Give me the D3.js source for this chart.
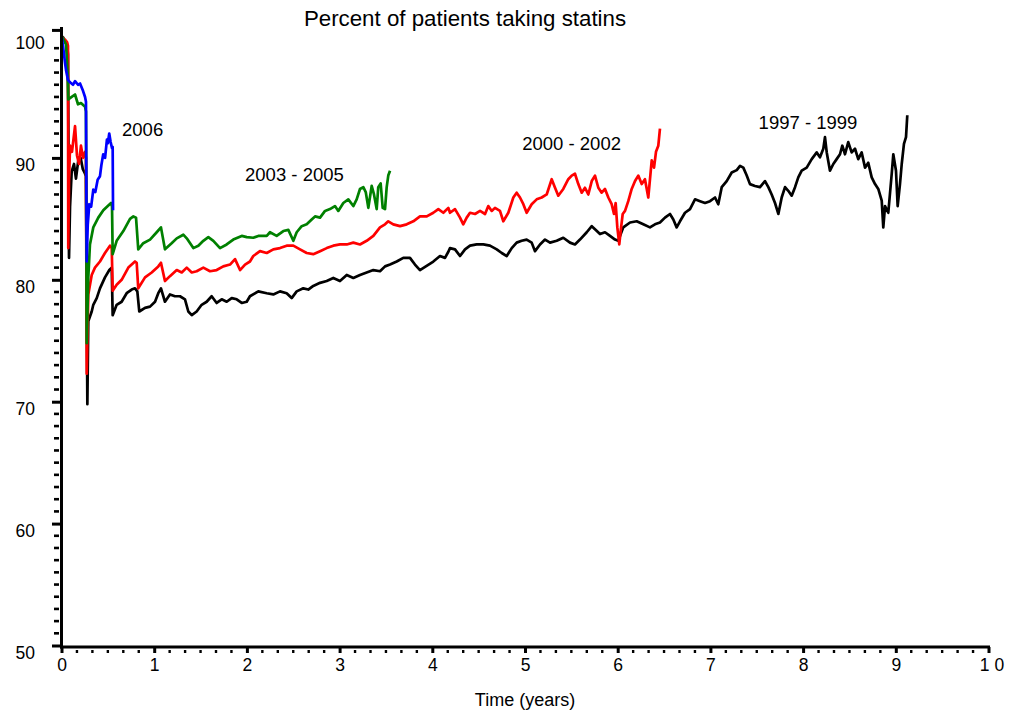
<!DOCTYPE html>
<html>
<head>
<meta charset="utf-8">
<script src="https://cdn.jsdelivr.net/npm/d3@7"></script>
<style>
  html, body { margin: 0; padding: 0; background: #fff; }
  svg { display: block; font-family: "Liberation Sans", Arial, sans-serif; }
</style>
</head>
<body>
<svg id="chart" width="1009" height="716"></svg>
<script>
// Percent of patients still taking statins, by years since first prescription,
// one cohort per calendar period. Each point: [years, percent].
const cohort1997 = [
  [0,100],[0.016,99.9],[0.038,99.6],[0.06,99.3],[0.07,98.5],[0.081,81.8],[0.092,86],[0.11,88.9],
  [0.135,89.5],[0.156,88.3],[0.181,89.8],[0.207,90.0],[0.229,89.1],[0.254,88.7],[0.264,88.5],
  [0.279,69.8],[0.289,76.6],[0.326,77.4],[0.343,77.95],[0.38,78.5],[0.415,79.3],[0.469,80.2],
  [0.516,80.8],[0.542,81.0],[0.552,77.1],[0.595,77.95],[0.649,78.2],[0.703,78.9],[0.757,79.2],
  [0.793,79.3],[0.818,79.05],[0.839,77.4],[0.901,77.7],[0.955,77.8],[1.009,78.2],[1.044,78.9],
  [1.073,79.3],[1.116,78.2],[1.17,78.8],[1.224,78.65],[1.278,78.65],[1.332,78.4],[1.368,77.4],
  [1.405,77.1],[1.458,77.4],[1.512,77.95],[1.566,78.2],[1.62,78.65],[1.674,78.1],[1.728,78.4],
  [1.782,78.2],[1.836,78.5],[1.89,78.4],[1.944,78.1],[1.998,78.2],[2.033,78.65],[2.123,79.05],
  [2.214,78.9],[2.285,78.8],[2.357,79.05],[2.429,78.9],[2.483,78.5],[2.537,79.05],[2.608,79.3],
  [2.662,79.2],[2.716,79.5],[2.789,79.75],[2.861,79.9],[2.932,80.15],[3.004,79.9],[3.077,80.4],
  [3.148,80.15],[3.22,80.4],[3.292,80.6],[3.364,80.8],[3.436,80.7],[3.49,81.1],[3.544,81.25],
  [3.616,81.5],[3.687,81.8],[3.759,81.8],[3.813,81.25],[3.867,80.8],[4.011,81.5],[4.083,81.95],
  [4.137,81.8],[4.173,82.3],[4.191,82.6],[4.245,82.5],[4.299,81.95],[4.353,82.5],[4.407,82.8],
  [4.479,82.9],[4.55,82.9],[4.622,82.8],[4.695,82.5],[4.749,82.2],[4.803,81.95],[4.857,82.6],
  [4.91,83.05],[4.964,83.2],[5.018,83.3],[5.072,83.05],[5.108,82.35],[5.162,82.9],[5.216,83.3],
  [5.27,83.05],[5.342,83.2],[5.413,83.45],[5.485,83.05],[5.539,82.9],[5.593,83.3],[5.666,83.9],
  [5.72,84.4],[5.755,84.15],[5.809,83.75],[5.863,83.9],[5.917,83.6],[5.971,83.3],[6.006,83.2],
  [6.06,84.3],[6.133,84.7],[6.205,84.8],[6.276,84.55],[6.348,84.3],[6.402,84.55],[6.456,84.7],
  [6.51,85.1],[6.564,85.4],[6.6,84.95],[6.636,84.3],[6.672,84.8],[6.726,85.5],[6.78,85.8],
  [6.834,86.6],[6.888,86.45],[6.942,86.3],[6.996,86.45],[7.05,86.75],[7.085,86.2],[7.122,87.6],
  [7.176,88.1],[7.23,88.8],[7.284,89.0],[7.32,89.35],[7.355,89.2],[7.392,88.55],[7.427,87.85],
  [7.481,87.7],[7.535,87.6],[7.589,88.1],[7.625,87.6],[7.661,87.0],[7.697,86.3],[7.733,85.4],
  [7.769,86.75],[7.805,87.6],[7.84,87.3],[7.877,86.9],[7.913,87.6],[7.948,88.4],[7.985,88.95],
  [8.039,89.2],[8.093,89.9],[8.147,90.45],[8.182,90.05],[8.218,90.75],[8.236,91.7],[8.255,90.45],
  [8.29,88.95],[8.326,89.5],[8.362,89.9],[8.398,90.3],[8.423,91.0],[8.452,90.3],[8.487,91.3],
  [8.524,90.45],[8.56,90.75],[8.595,89.9],[8.632,90.45],[8.668,89.2],[8.703,89.6],[8.74,88.4],
  [8.776,87.85],[8.811,87.45],[8.848,86.5],[8.865,84.3],[8.884,86.05],[8.919,85.5],[8.956,88.7],
  [8.973,90.3],[9.002,88.95],[9.02,86.05],[9.045,87.85],[9.064,89.5],[9.088,91.15],[9.11,91.7],
  [9.124,93.5]
];

const cohort2000 = [
  [0,100],[0.016,99.8],[0.038,99.7],[0.06,99.5],[0.07,99.2],[0.073,82.6],[0.081,88],[0.092,91],
  [0.113,90.5],[0.146,92.6],[0.167,90.2],[0.189,89.5],[0.21,91],[0.232,90],[0.254,90.5],[0.264,90.0],
  [0.272,72.3],[0.289,78.8],[0.326,80.4],[0.361,81.0],[0.415,81.5],[0.469,82.2],[0.523,82.8],
  [0.542,82.6],[0.552,79.1],[0.595,79.6],[0.649,80.0],[0.721,81.0],[0.793,81.5],[0.811,81.4],
  [0.828,79.3],[0.901,80.2],[0.973,80.6],[1.044,81.1],[1.073,81.4],[1.116,79.9],[1.17,80.3],
  [1.243,80.8],[1.297,80.6],[1.351,81.0],[1.405,80.6],[1.458,80.7],[1.53,81.0],[1.602,80.7],
  [1.674,80.8],[1.745,81.1],[1.818,81.25],[1.872,81.7],[1.926,80.8],[1.98,81.25],[2.033,81.5],
  [2.069,81.95],[2.141,82.35],[2.214,82.2],[2.285,82.5],[2.357,82.6],[2.429,82.8],[2.501,82.8],
  [2.573,82.5],[2.645,82.2],[2.716,82.1],[2.789,82.35],[2.861,82.6],[2.932,82.8],[3.004,82.9],
  [3.077,82.9],[3.148,83.05],[3.22,82.9],[3.292,83.2],[3.364,83.6],[3.436,84.3],[3.49,84.55],
  [3.525,84.8],[3.579,84.55],[3.652,84.4],[3.724,84.55],[3.795,84.8],[3.867,85.2],[3.94,85.2],
  [4.011,85.5],[4.065,85.8],[4.119,85.5],[4.173,85.9],[4.191,85.5],[4.245,85.8],[4.299,85.1],
  [4.334,84.55],[4.371,85.1],[4.407,85.5],[4.461,85.4],[4.515,85.65],[4.569,85.4],[4.604,86.05],
  [4.641,85.65],[4.676,85.9],[4.73,85.65],[4.766,84.8],[4.82,85.5],[4.874,86.75],[4.91,87.15],
  [4.946,86.75],[4.982,86.2],[5.018,85.5],[5.072,86.2],[5.126,86.6],[5.18,86.75],[5.234,87.0],
  [5.288,88.25],[5.324,87.55],[5.359,86.9],[5.413,87.45],[5.467,88.25],[5.504,88.55],[5.539,88.7],
  [5.575,87.85],[5.612,87.15],[5.647,87.55],[5.683,87.0],[5.72,88.1],[5.755,88.55],[5.791,87.55],
  [5.827,87.15],[5.863,87.45],[5.899,86.75],[5.935,86.2],[5.96,85.4],[5.978,86.3],[5.996,84.3],
  [6.017,82.9],[6.032,84.0],[6.054,85.4],[6.079,85.65],[6.114,86.45],[6.151,87.45],[6.187,88.1],
  [6.222,88.55],[6.259,87.85],[6.294,88.25],[6.33,86.75],[6.367,89.8],[6.392,89.2],[6.413,90.5],
  [6.438,91.0],[6.456,92.4]
];

const cohort2003 = [
  [0,100],[0.03,99.6],[0.049,99.3],[0.066,97],[0.073,94.8],[0.11,95],[0.146,95.2],[0.178,94.4],
  [0.21,94.5],[0.254,94.2],[0.264,93.8],[0.272,74.8],[0.289,80.2],[0.307,82.9],[0.343,84.3],
  [0.397,85.1],[0.451,85.7],[0.505,86.1],[0.534,86.3],[0.545,86.0],[0.552,82.1],[0.595,83.2],
  [0.667,84.0],[0.739,85.0],[0.775,85.2],[0.804,85.1],[0.828,82.5],[0.882,83.0],[0.955,83.3],
  [1.027,83.9],[1.073,84.3],[1.116,82.5],[1.188,83.0],[1.243,83.4],[1.314,83.7],[1.351,83.4],
  [1.422,82.6],[1.476,82.8],[1.53,83.2],[1.584,83.5],[1.638,83.2],[1.71,82.6],[1.782,82.9],
  [1.853,83.3],[1.944,83.6],[1.998,83.5],[2.069,83.45],[2.123,83.6],[2.214,83.6],[2.249,83.9],
  [2.321,83.6],[2.393,84.0],[2.447,84.1],[2.501,83.2],[2.537,83.9],[2.591,84.4],[2.645,84.55],
  [2.699,84.95],[2.735,85.2],[2.789,85.1],[2.843,85.65],[2.896,85.8],[2.95,86.05],[2.986,85.65],
  [3.04,86.3],[3.094,86.6],[3.148,86.05],[3.184,86.6],[3.22,87.45],[3.256,87.6],[3.282,87.2],
  [3.31,85.9],[3.346,87.7],[3.371,87.0],[3.4,85.8],[3.417,87.6],[3.443,87.9],[3.465,85.9],
  [3.49,85.8],[3.508,87.6],[3.525,88.55],[3.544,88.95]
];

const cohort2006 = [
  [0,100],[0.016,99.2],[0.038,97.8],[0.049,97.2],[0.07,96.4],[0.092,96.2],[0.124,96.0],[0.146,96.3],
  [0.178,96.0],[0.2,96.1],[0.232,95.5],[0.254,95.0],[0.264,94.6],[0.272,81.5],[0.283,84.5],
  [0.3,86.2],[0.32,86.0],[0.343,87.4],[0.365,87.2],[0.39,88.2],[0.415,88.5],[0.43,89.4],[0.45,90.3],
  [0.47,90.0],[0.49,91.5],[0.5,91.2],[0.515,92.0],[0.53,91.3],[0.545,90.8],[0.552,90.9],[0.556,85.7]
];

const seriesNames = ["1997 - 1999", "2000 - 2002", "2003 - 2005", "2006"];
const seriesColors = ["#000000", "#ff0000", "#008000", "#0000ff"];
const seriesData = [cohort1997, cohort2000, cohort2003, cohort2006];
// where each series name sits: [years, percent] at the text baseline
const labelAnchors = [[7.52, 92.4], [4.97, 90.65], [1.98, 88.1], [0.653, 91.8]];

const xMajorTicks = [0, 1, 2, 3, 4, 5, 6, 7, 8, 9, 10];
const xTickLabels = ["0", "1", "2", "3", "4", "5", "6", "7", "8", "9", "1 0"];
const yMajorTicks = [50, 60, 70, 80, 90, 100];

const chartTitle = "Percent of patients taking statins";
const xTitle = "Time (years)";

const svg = d3.select("#chart");
const x = d3.scaleLinear().domain([0, 10]).range([61.5, 988.5]);
const y = d3.scaleLinear().domain([50, 100]).range([645.5, 36]);

const axisX = 61.5;   // vertical axis position
const axisY = 647;    // horizontal axis position

// series, oldest drawn first so the newer cohorts sit on top
const line = d3.line().x(d => x(d[0])).y(d => y(d[1]));
svg.append("g").selectAll("path")
  .data(seriesData)
  .join("path")
  .attr("d", line)
  .attr("fill", "none")
  .attr("stroke", (d, i) => seriesColors[i])
  .attr("stroke-width", 2.7)
  .attr("stroke-linejoin", "round");

// y axis
const gy = svg.append("g").attr("transform", `translate(${axisX},0)`);
gy.call(d3.axisLeft(y).tickValues(yMajorTicks).tickSize(9.5).tickFormat(d3.format("d")));
gy.select(".domain").remove();
gy.selectAll(".tick line").attr("stroke", "#000").attr("stroke-width", 3);
// the top tick closes the axis just above 100
gy.selectAll(".tick").filter(d => d === 100).select("line")
  .attr("transform", `translate(0,${y(100.5) - y(100)})`);
gy.selectAll(".tick text")
  .attr("x", 15.5 - axisX)
  .attr("dy", "0.32em")
  .attr("y", 7)
  .attr("text-anchor", "start")
  .attr("fill", "#000")
  .attr("font-size", 17.5)
  .attr("font-family", "Liberation Sans, Arial, sans-serif");

const yMinor = d3.range(51, 100).filter(v => v % 10 !== 0);
svg.append("g").selectAll("line")
  .data(yMinor)
  .join("line")
  .attr("x1", axisX - 7.5).attr("x2", axisX - 2.5)
  .attr("y1", d => y(d)).attr("y2", d => y(d))
  .attr("stroke", "#000").attr("stroke-width", 2.6);

svg.append("line")
  .attr("x1", axisX).attr("x2", axisX)
  .attr("y1", 27).attr("y2", axisY + 1.5)
  .attr("stroke", "#000").attr("stroke-width", 3);

// x axis
const gx = svg.append("g").attr("transform", `translate(0,${axisY})`);
gx.call(d3.axisBottom(x).tickValues(xMajorTicks).tickSize(6)
  .tickFormat((d, i) => xTickLabels[i]));
gx.select(".domain").remove();
gx.selectAll(".tick line").attr("stroke", "#000").attr("stroke-width", 3);
gx.selectAll(".tick text")
  .attr("y", 12)
  .attr("dy", "0.71em")
  .attr("fill", "#000")
  .attr("font-size", 17.5)
  .attr("font-family", "Liberation Sans, Arial, sans-serif");
gx.selectAll(".tick").filter(d => d === 10).select("text").attr("dx", 3);

const xMinor = d3.range(0, 60).filter(i => i % 6 !== 0).map(i => i / 6);
svg.append("g").selectAll("line")
  .data(xMinor)
  .join("line")
  .attr("x1", d => x(d)).attr("x2", d => x(d))
  .attr("y1", axisY + 3).attr("y2", axisY + 6)
  .attr("stroke", "#000").attr("stroke-width", 2.4);

svg.append("line")
  .attr("x1", axisX - 1.5).attr("x2", x(10) + 1.5)
  .attr("y1", axisY).attr("y2", axisY)
  .attr("stroke", "#000").attr("stroke-width", 3);

// series names
svg.append("g").selectAll("text")
  .data(seriesNames)
  .join("text")
  .attr("x", (d, i) => x(labelAnchors[i][0]))
  .attr("y", (d, i) => y(labelAnchors[i][1]))
  .attr("font-size", 18.5)
  .attr("fill", "#000")
  .text(d => d);

// titles
svg.append("text")
  .attr("x", 465).attr("y", 26)
  .attr("text-anchor", "middle")
  .attr("font-size", 22.3)
  .attr("fill", "#000")
  .text(chartTitle);

svg.append("text")
  .attr("x", x(5)).attr("y", 706)
  .attr("text-anchor", "middle")
  .attr("font-size", 18)
  .attr("fill", "#000")
  .text(xTitle);
</script>
</body>
</html>
